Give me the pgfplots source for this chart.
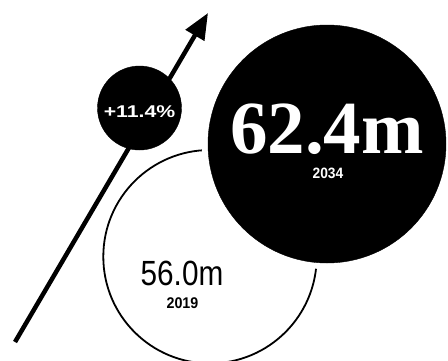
\documentclass[border=0pt]{standalone}
\usepackage{pgfplots}
\pgfplotsset{compat=1.18}
\usepackage{fontspec}
\setmainfont{Liberation Sans}
\newfontfamily\serifb{Liberation Serif}
\usetikzlibrary{arrows.meta}
\begin{document}
\begin{tikzpicture}
\begin{axis}[x=1pt,y=1pt,xmin=0,xmax=448,ymin=0,ymax=360,y dir=reverse,hide axis,clip=false]
% growth arrow
\addplot[line width=4.5pt,-{Triangle[length=26pt,width=21pt]}] coordinates {(15,342) (208,13)};
% small percentage bubble
\addplot[only marks,mark=*,mark size=42pt,mark options={fill=black,draw=black}] coordinates {(139.5,108)};
% 2019 outline bubble
\addplot[only marks,mark=*,mark size=106.7pt,mark options={fill=white,draw=black,line width=1.8pt}] coordinates {(210,256.7)};
% 2034 bubble with white halo
\addplot[only marks,mark=*,mark size=125pt,mark options={fill=white,draw=white}] coordinates {(327,144)};
\addplot[only marks,mark=*,mark size=119pt,mark options={fill=black,draw=black}] coordinates {(327,144)};
\coordinate (tA) at (axis cs:327,153);
\coordinate (tB) at (axis cs:328,178);
\coordinate (tC) at (axis cs:182,285);
\coordinate (tD) at (axis cs:182.5,308);
\coordinate (tE) at (axis cs:139.5,117);
\end{axis}
\node[anchor=base,text=white,font=\serifb\bfseries\fontsize{75}{75}\selectfont,inner sep=0pt,text depth=0pt] at (tA) {62.4m};
\node[anchor=base,text=white,font=\bfseries\fontsize{15}{15}\selectfont,inner sep=0pt,text depth=0pt] at (tB) {\scalebox{0.92}[1]{2034}};
\node[anchor=base,text=black,font=\fontsize{35}{35}\selectfont,inner sep=0pt,text depth=0pt] at (tC) {\scalebox{0.85}[1]{56.0m}};
\node[anchor=base,text=black,font=\bfseries\fontsize{15.5}{15.5}\selectfont,inner sep=0pt,text depth=0pt] at (tD) {\scalebox{0.92}[1]{2019}};
\node[anchor=base,text=white,font=\bfseries\fontsize{17}{17}\selectfont,inner sep=0pt,text depth=0pt] at (tE) {\scalebox{1.25}[1]{+11.4\%}};
\pgfresetboundingbox
\path (current axis.south west) rectangle (current axis.north east);
\end{tikzpicture}
\end{document}
